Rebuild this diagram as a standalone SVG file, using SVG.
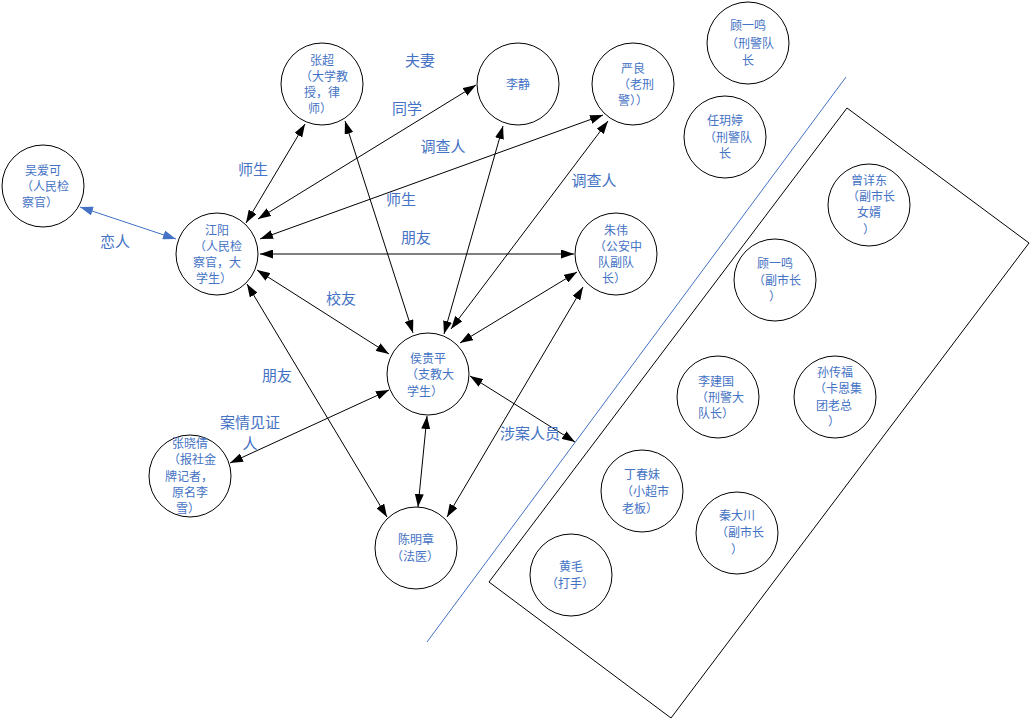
<svg xmlns="http://www.w3.org/2000/svg" width="1030" height="720" viewBox="0 0 1030 720">
<style>
.bg{fill:#ffffff}
.node circle{fill:#ffffff;stroke:#000000;stroke-width:1}
.nt{font-family:"Noto Sans CJK SC","Liberation Sans",sans-serif;font-size:12px;fill:#4472C4;text-anchor:middle}
.el{font-family:"Noto Sans CJK SC","Liberation Sans",sans-serif;font-size:15px;fill:#4472C4;text-anchor:middle}
.c{fill:none;stroke:#000000;stroke-width:1;marker-start:url(#ah);marker-end:url(#ah)}
.cg{fill:none;stroke:#7F7F7F;stroke-width:2;marker-start:url(#ah2);marker-end:url(#ah2)}
.cb{fill:none;stroke:#4472C4;stroke-width:1;marker-start:url(#ahb);marker-end:url(#ahb)}
.frame{fill:none;stroke:#000000;stroke-width:1}
.sep{fill:none;stroke:#4472C4;stroke-width:1}
</style>
<defs>
<marker id="ah" viewBox="0 0 13 9" refX="13" refY="4.5" markerWidth="13" markerHeight="9" markerUnits="userSpaceOnUse" orient="auto-start-reverse"><path d="M0,0 L13,4.5 L0,9 z" fill="#000000"/></marker>
<marker id="ah2" viewBox="0 0 13 9" refX="13" refY="4.5" markerWidth="13" markerHeight="9" markerUnits="userSpaceOnUse" orient="auto-start-reverse"><path d="M0,0 L13,4.5 L0,9 z" fill="#000000"/></marker>
<marker id="ahb" viewBox="0 0 13 9" refX="13" refY="4.5" markerWidth="13" markerHeight="9" markerUnits="userSpaceOnUse" orient="auto-start-reverse"><path d="M0,0 L13,4.5 L0,9 z" fill="#4472C4"/></marker>
</defs>
<rect class="bg" x="0" y="0" width="1030" height="720"/>

<g id="frames">
<polygon class="frame" points="847,108 1029,243 671,718 489,582"/>
<line class="sep" x1="846" y1="77" x2="427" y2="642"/>
</g>

<g id="connectors">
<line class="cb" x1="80" y1="207" x2="176" y2="239"/>
<line class="c" x1="305" y1="124" x2="246" y2="223"/>
<line class="c" x1="258" y1="219" x2="476" y2="85"/>
<line class="c" x1="260" y1="239" x2="603" y2="115"/>
<line class="cg" x1="260" y1="254" x2="574" y2="254"/>
<line class="c" x1="257" y1="270" x2="389" y2="354"/>
<line class="c" x1="247" y1="284" x2="387" y2="517"/>
<line class="c" x1="345" y1="121" x2="413" y2="333"/>
<line class="c" x1="503" y1="126" x2="444" y2="334"/>
<line class="c" x1="608" y1="121" x2="451" y2="329"/>
<line class="c" x1="577" y1="272" x2="460" y2="343"/>
<line class="c" x1="470" y1="376" x2="575" y2="442"/>
<line class="c" x1="427" y1="416" x2="418" y2="507"/>
<line class="c" x1="389" y1="390" x2="230" y2="463"/>
<line class="c" x1="447" y1="517" x2="583" y2="287"/>
</g>

<g id="edge-labels">
<text class="el" x="420" y="65.5">夫妻</text>
<text class="el" x="407" y="113.5">同学</text>
<text class="el" x="443" y="151.5">调查人</text>
<text class="el" x="401" y="204.5">师生</text>
<text class="el" x="416" y="242.5">朋友</text>
<text class="el" x="594" y="185.5">调查人</text>
<text class="el" x="253" y="174.5">师生</text>
<text class="el" x="115" y="246.5">恋人</text>
<text class="el" x="341" y="303.5">校友</text>
<text class="el" x="277" y="380.5">朋友</text>
<text class="el" x="250" y="427.5">案情见证</text>
<text class="el" x="250" y="448.5">人</text>
<text class="el" x="530" y="438.5">涉案人员</text>
</g>

<g id="n-wuaike" class="node"><circle cx="43" cy="186" r="41"/>
<text class="nt" x="43" y="174.5">吴爱可</text><text class="nt" x="45" y="190.5">（人民检</text><text class="nt" x="40" y="206.5">察官）</text></g>

<g id="n-jiangyang" class="node"><circle cx="217" cy="254" r="41"/>
<text class="nt" x="217" y="234.5">江阳</text><text class="nt" x="218" y="250.5">（人民检</text><text class="nt" x="217" y="266.5">察官，大</text><text class="nt" x="214" y="282.5">学生）</text></g>

<g id="n-zhangchao" class="node"><circle cx="322" cy="84" r="41"/>
<text class="nt" x="322" y="64.5">张超</text><text class="nt" x="324" y="80.5">（大学教</text><text class="nt" x="322" y="96.5">授，律</text><text class="nt" x="320" y="112.5">师）</text></g>

<g id="n-lijing" class="node"><circle cx="518" cy="84" r="41"/>
<text class="nt" x="518" y="88.5">李静</text></g>

<g id="n-yanliang" class="node"><circle cx="633" cy="84" r="41"/>
<text class="nt" x="633" y="72.5">严良</text><text class="nt" x="636" y="88.5">（老刑</text><text class="nt" x="633" y="104.5">警））</text></g>

<g id="n-zhuwei" class="node"><circle cx="616" cy="254" r="41"/>
<text class="nt" x="616" y="234.5">朱伟</text><text class="nt" x="618" y="250.5">（公安中</text><text class="nt" x="616" y="266.5">队副队</text><text class="nt" x="614" y="282.5">长）</text></g>

<g id="n-houguiping" class="node"><circle cx="428" cy="374" r="41"/>
<text class="nt" x="428" y="362.5">侯贵平</text><text class="nt" x="430" y="379">（支教大</text><text class="nt" x="425" y="395.5">学生）</text></g>

<g id="n-chenmingzhang" class="node"><circle cx="416" cy="548" r="41"/>
<text class="nt" x="416" y="543.5">陈明章</text><text class="nt" x="415" y="560.5">（法医）</text></g>

<g id="n-zhangxiaoqian" class="node"><circle cx="190" cy="476" r="41"/>
<text class="nt" x="190" y="447.5">张晓倩</text><text class="nt" x="192" y="464">（报社金</text><text class="nt" x="189" y="480.5">牌记者，</text><text class="nt" x="190" y="497">原名李</text><text class="nt" x="188" y="513">雪）</text></g>

<g id="n-guyiming1" class="node"><circle cx="748" cy="43" r="41"/>
<text class="nt" x="748" y="29.5">顾一鸣</text><text class="nt" x="750" y="47.5">（刑警队</text><text class="nt" x="748" y="64.5">长</text></g>

<g id="n-renyueting" class="node"><circle cx="725" cy="137" r="41"/>
<text class="nt" x="725" y="124.5">任玥婷</text><text class="nt" x="728" y="141.5">（刑警队</text><text class="nt" x="725" y="157.5">长</text></g>

<g id="n-zengxiangdong" class="node"><circle cx="869" cy="205" r="41"/>
<text class="nt" x="869" y="184.5">曾详东</text><text class="nt" x="871" y="200.5">（副市长</text><text class="nt" x="869" y="216.5">女婿</text><text class="nt" x="869" y="233.5">）</text></g>

<g id="n-guyiming2" class="node"><circle cx="775" cy="280" r="41"/>
<text class="nt" x="775" y="267.5">顾一鸣</text><text class="nt" x="777" y="284.5">（副市长</text><text class="nt" x="775" y="300.5">）</text></g>

<g id="n-lijianguo" class="node"><circle cx="718" cy="397" r="41"/>
<text class="nt" x="716" y="385.5">李建国</text><text class="nt" x="720" y="401.5">（刑警大</text><text class="nt" x="716" y="417.5">队长）</text></g>

<g id="n-sunchuanfu" class="node"><circle cx="835" cy="397" r="41"/>
<text class="nt" x="835" y="376.5">孙传福</text><text class="nt" x="838" y="392.5">（卡恩集</text><text class="nt" x="834" y="409.5">团老总</text><text class="nt" x="834" y="425.5">）</text></g>

<g id="n-qindachuan" class="node"><circle cx="737" cy="533" r="41"/>
<text class="nt" x="737" y="519.5">秦大川</text><text class="nt" x="740" y="536.5">（副市长</text><text class="nt" x="737" y="553.5">）</text></g>

<g id="n-dingchunmei" class="node"><circle cx="642" cy="491" r="41"/>
<text class="nt" x="642" y="478.5">丁春妹</text><text class="nt" x="645" y="495.5">（小超市</text><text class="nt" x="640" y="512.5">老板）</text></g>

<g id="n-huangmao" class="node"><circle cx="571" cy="575" r="41"/>
<text class="nt" x="571" y="570.5">黄毛</text><text class="nt" x="570" y="587.5">（打手）</text></g>
</svg>
